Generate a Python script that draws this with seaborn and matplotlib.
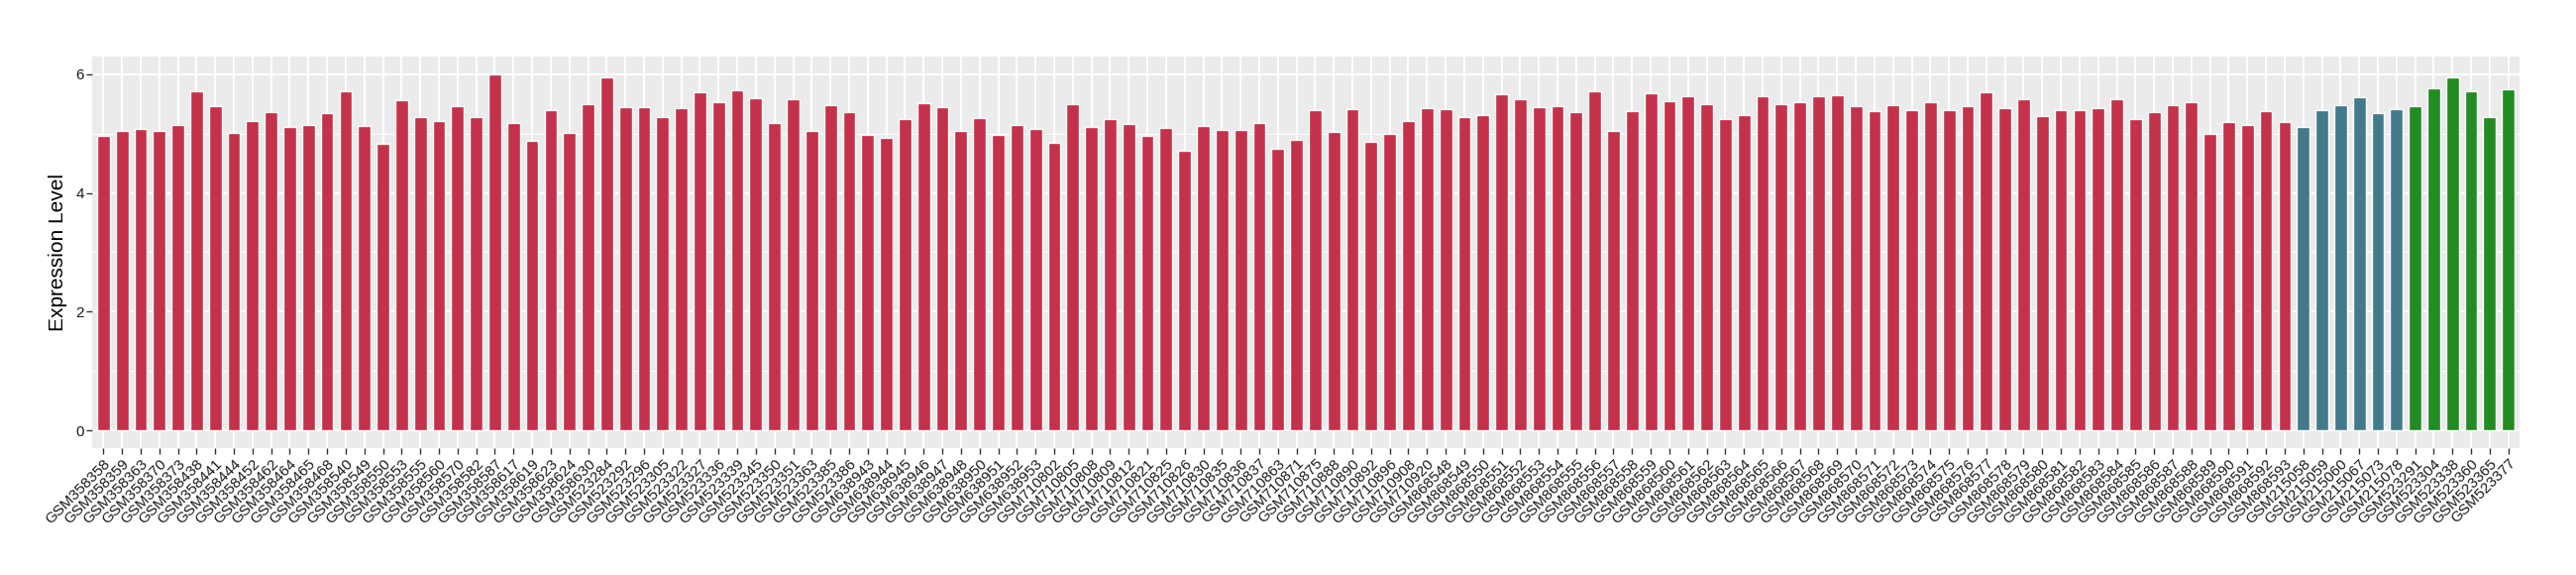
import pandas as pd
import numpy as np
import matplotlib
matplotlib.use("Agg")
import matplotlib.pyplot as plt
import seaborn as sns
from matplotlib.ticker import MultipleLocator

red_samples = [
    "GSM358358", "GSM358359", "GSM358363", "GSM358370", "GSM358373", "GSM358438",
    "GSM358441", "GSM358444", "GSM358452", "GSM358462", "GSM358464", "GSM358465",
    "GSM358468", "GSM358540", "GSM358549", "GSM358550", "GSM358553", "GSM358555",
    "GSM358560", "GSM358570", "GSM358582", "GSM358587", "GSM358617", "GSM358619",
    "GSM358623", "GSM358624", "GSM358630", "GSM523284", "GSM523292", "GSM523296",
    "GSM523305", "GSM523322", "GSM523327", "GSM523336", "GSM523339", "GSM523345",
    "GSM523350", "GSM523351", "GSM523363", "GSM523385", "GSM523386", "GSM638943",
    "GSM638944", "GSM638945", "GSM638946", "GSM638947", "GSM638948", "GSM638950",
    "GSM638951", "GSM638952", "GSM638953", "GSM710802", "GSM710805", "GSM710808",
    "GSM710809", "GSM710812", "GSM710821", "GSM710825", "GSM710826", "GSM710830",
    "GSM710835", "GSM710836", "GSM710837", "GSM710863", "GSM710871", "GSM710875",
    "GSM710888", "GSM710890", "GSM710892", "GSM710896", "GSM710908", "GSM710920",
    "GSM868548", "GSM868549", "GSM868550", "GSM868551", "GSM868552", "GSM868553",
    "GSM868554", "GSM868555", "GSM868556", "GSM868557", "GSM868558", "GSM868559",
    "GSM868560", "GSM868561", "GSM868562", "GSM868563", "GSM868564", "GSM868565",
    "GSM868566", "GSM868567", "GSM868568", "GSM868569", "GSM868570", "GSM868571",
    "GSM868572", "GSM868573", "GSM868574", "GSM868575", "GSM868576", "GSM868577",
    "GSM868578", "GSM868579", "GSM868580", "GSM868581", "GSM868582", "GSM868583",
    "GSM868584", "GSM868585", "GSM868586", "GSM868587", "GSM868588", "GSM868589",
    "GSM868590", "GSM868591", "GSM868592", "GSM868593",
]
red_values = [
    4.96, 5.05, 5.08, 5.05, 5.15, 5.72, 5.47, 5.01, 5.21, 5.36, 5.11, 5.15,
    5.35, 5.72, 5.13, 4.83, 5.57, 5.28, 5.21, 5.47, 5.28, 6.00, 5.18, 4.88,
    5.40, 5.01, 5.50, 5.95, 5.45, 5.45, 5.28, 5.43, 5.70, 5.53, 5.73, 5.60,
    5.18, 5.58, 5.05, 5.48, 5.36, 4.98, 4.93, 5.25, 5.52, 5.45, 5.05, 5.26,
    4.98, 5.15, 5.08, 4.85, 5.50, 5.11, 5.25, 5.16, 4.96, 5.10, 4.71, 5.13,
    5.06, 5.06, 5.18, 4.75, 4.90, 5.40, 5.03, 5.42, 4.86, 5.00, 5.21, 5.43,
    5.42, 5.28, 5.31, 5.67, 5.58, 5.45, 5.47, 5.36, 5.72, 5.05, 5.38, 5.68,
    5.55, 5.63, 5.50, 5.25, 5.31, 5.63, 5.50, 5.53, 5.63, 5.65, 5.47, 5.38,
    5.48, 5.40, 5.53, 5.40, 5.47, 5.70, 5.43, 5.58, 5.30, 5.40, 5.40, 5.43,
    5.58, 5.25, 5.36, 5.48, 5.53, 5.00, 5.20, 5.15, 5.38, 5.20,
]

teal_samples = ["GSM215058", "GSM215059", "GSM215060", "GSM215067", "GSM215073", "GSM215078"]
teal_values = [5.11, 5.40, 5.48, 5.62, 5.35, 5.42]

green_samples = ["GSM523291", "GSM523304", "GSM523338", "GSM523360", "GSM523365", "GSM523377"]
green_values = [5.47, 5.77, 5.95, 5.72, 5.28, 5.75]

df = pd.DataFrame({
    "sample": red_samples + teal_samples + green_samples,
    "value": red_values + teal_values + green_values,
    "group": ["a"] * len(red_samples) + ["b"] * len(teal_samples) + ["c"] * len(green_samples),
})
palette = {"a": "#C4314B", "b": "#427A8B", "c": "#228B22"}

sns.set_theme(style="darkgrid", rc={
    "axes.facecolor": "#EBEBEB",
    "grid.color": "white",
    "axes.edgecolor": "#EBEBEB",
})
plt.rcParams["font.family"] = ["Liberation Sans", "DejaVu Sans"]

fig, ax = plt.subplots(figsize=(26, 5.8), dpi=100)
fig.subplots_adjust(left=93 / 2600, right=2543 / 2600, top=1 - 57 / 580, bottom=1 - 452 / 580)

sns.barplot(data=df, x="sample", y="value", hue="group", palette=palette,
            dodge=False, width=0.68, legend=False, saturation=1, ax=ax)

n = len(df)
ax.set_xlim(-0.6, n - 1 + 0.6)
ax.set_ylim(-0.3, 6.3)
ax.yaxis.set_major_locator(MultipleLocator(2))
ax.yaxis.set_minor_locator(MultipleLocator(1))
ax.grid(True, which="major", color="white", linewidth=1.4)
ax.grid(True, which="minor", axis="y", color="white", linewidth=0.7)
for s in ax.spines.values():
    s.set_visible(False)

ax.tick_params(axis="both", which="major", bottom=True, left=True, length=4, width=1,
               color="#333333", labelsize=11, labelcolor="#1A1A1A", pad=2)
ax.tick_params(axis="y", which="minor", length=0)
plt.setp(ax.get_xticklabels(), rotation=45, ha="right", va="top", rotation_mode="anchor")

ax.set_xlabel("")
ax.set_ylabel("Expression Level", fontsize=15, color="black", labelpad=6)

fig.savefig("out.png", dpi=100)
